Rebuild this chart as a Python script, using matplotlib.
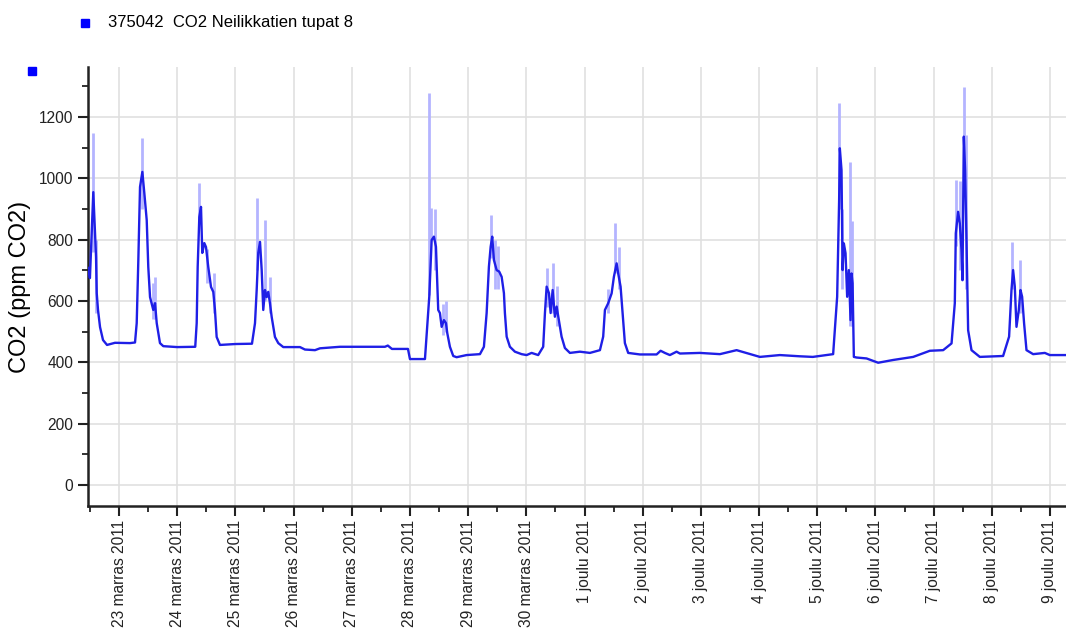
import numpy as np
import pandas as pd
import matplotlib
matplotlib.use('Agg')
import matplotlib.pyplot as plt
import matplotlib.dates as mdates
from matplotlib.ticker import MultipleLocator, FuncFormatter
from matplotlib.lines import Line2D

plt.rcParams['font.family'] = ['Liberation Sans', 'DejaVu Sans']

# days since 22.11.2011 00:00, CO2 ppm
days = [0.47, 0.50, 0.527, 0.558, 0.57, 0.605, 0.617, 0.639, 0.674, 0.725, 0.794, 0.931, 1.189, 1.275,
        1.304, 1.332, 1.361, 1.401, 1.435, 1.476, 1.503, 1.533, 1.589, 1.619, 1.648, 1.704, 1.761, 2.0, 2.31,
        2.335, 2.352, 2.380, 2.409, 2.431, 2.466, 2.495, 2.534, 2.581, 2.620, 2.649, 2.678, 2.735, 3.0, 3.285,
        3.337, 3.366, 3.393, 3.423, 3.452, 3.479, 3.509, 3.538, 3.565, 3.594, 3.624, 3.680, 3.737, 3.823,
        4.110, 4.196, 4.368, 4.454, 4.797, 5.57, 5.62, 5.69, 5.966, 6.00, 6.258,
        6.332, 6.373, 6.412, 6.447, 6.469, 6.486, 6.515, 6.545, 6.584, 6.619, 6.641, 6.687, 6.744, 6.802,
        6.974, 7.203, 7.271,
        7.318, 7.357, 7.387, 7.414, 7.443, 7.490, 7.534, 7.576, 7.615, 7.632, 7.662, 7.718, 7.804, 7.919,
        8.005, 8.091, 8.204, 8.290,
        8.320, 8.349, 8.389, 8.418, 8.452, 8.491, 8.521, 8.560, 8.606, 8.663, 8.749, 8.921, 9.093, 9.265,
        9.321, 9.351, 9.407, 9.466, 9.505, 9.552, 9.579, 9.620, 9.655, 9.694, 9.751, 9.952, 10.239, 10.308,
        10.381, 10.467, 10.582, 10.640, 10.983, 11.327, 11.614, 12.014, 12.357, 12.701, 12.924, 13.273,
        13.342, 13.376, 13.388, 13.417, 13.435, 13.457, 13.486, 13.514, 13.543, 13.572, 13.589, 13.607,
        13.629, 13.676, 13.847, 14.047, 14.305, 14.649, 14.935, 15.164, 15.308,
        15.364, 15.381, 15.421, 15.450, 15.479, 15.496, 15.519, 15.541, 15.565, 15.593, 15.651, 15.794, 16.194,
        16.297, 16.338, 16.366, 16.395, 16.424, 16.464, 16.493, 16.521, 16.555, 16.596, 16.710, 16.911,
        16.997, 17.272]
co2 = [708, 675, 809, 955, 900, 744, 626, 571, 515, 473, 457, 464, 463, 465,
       528, 734, 972, 1021, 952, 864, 711, 613, 571, 593, 528, 463, 453, 450, 451,
       528, 711, 874, 907, 757, 789, 776, 711, 646, 630, 571, 483, 457, 460, 461,
       528, 636, 757, 793, 701, 571, 636, 613, 630, 593, 548, 483, 463, 450,
       450, 442, 440, 446, 451, 451, 455, 444, 444, 411, 411,
       614, 799, 810, 777, 659, 571, 561, 516, 538, 528, 496, 451, 421, 417,
       424, 427, 451,
       561, 712, 777, 810, 734, 701, 696, 679, 626, 561, 484, 451, 435, 427,
       424, 431, 424, 451,
       561, 647, 626, 561, 636, 549, 582, 538, 484, 447, 431, 435, 431, 440,
       484, 571, 593, 625, 679, 723, 690, 647, 561, 463, 431, 426, 426, 438,
       431, 424, 435, 429, 431, 427, 440, 418, 424, 420, 418, 427,
       614, 929, 1098, 1027, 701, 788, 756, 614, 701, 538, 690, 658,
       418, 416, 413, 399, 408, 418, 438, 440, 462,
       593, 821, 891, 853, 766, 668, 1136, 1027, 799, 505, 440, 418, 421,
       484, 636, 701, 647, 516, 571, 636, 614, 527, 440, 427, 431,
       424, 424]

# min/max spread within the averaging interval
spread_days = [0.55, 0.60, 1.39, 1.58, 1.62, 2.37, 2.52, 2.63, 3.38, 3.51, 3.59,
               6.33, 6.37, 6.43, 6.56, 6.62, 7.39, 7.46, 7.52, 8.35, 8.45, 8.53,
               9.40, 9.52, 9.59, 13.37, 13.43, 13.56, 13.60, 15.38, 15.45, 15.52, 15.56,
               16.35, 16.49]
spread_lo = [760, 560, 900, 540, 540, 850, 660, 560, 700, 600, 560,
             620, 800, 700, 490, 500, 740, 640, 640, 580, 560, 520,
             560, 690, 640, 900, 640, 520, 520, 780, 700, 1000, 640,
             640, 560]
spread_hi = [1148, 800, 1130, 660, 680, 985, 770, 690, 936, 864, 680,
             1277, 903, 900, 590, 600, 880, 800, 780, 708, 723, 650,
             640, 854, 777, 1245, 900, 1054, 860, 995, 990, 1299, 1140,
             793, 734]

month_fi = {11: 'marras', 12: 'joulu'}

start = pd.Timestamp('2011-11-22')
t = start + pd.to_timedelta(days, unit='D')
ts = start + pd.to_timedelta(spread_days, unit='D')

fig = plt.figure(figsize=(10.66, 6.32), dpi=100)
ax = fig.add_axes([88/1066, 1 - 506/632, 1 - 88/1066, (506 - 67)/632])

ax.vlines(ts, spread_lo, spread_hi, color='#b4b4ff', lw=2.0, zorder=2)
ax.plot(t, co2, color='#1f1fe6', lw=1.7, zorder=3)

ax.set_xlim(start + pd.Timedelta(days=0.467), start + pd.Timedelta(days=17.275))
ax.set_ylim(-68, 1363)

ax.xaxis.set_major_locator(mdates.DayLocator())
ax.xaxis.set_minor_locator(mdates.HourLocator(byhour=12))
ax.xaxis.set_major_formatter(FuncFormatter(
    lambda v, p: '{} {} {}'.format(mdates.num2date(v).day, month_fi[mdates.num2date(v).month],
                                   mdates.num2date(v).year)))
ax.yaxis.set_major_locator(MultipleLocator(200))
ax.yaxis.set_minor_locator(MultipleLocator(100))

for lab in ax.get_xticklabels():
    lab.set_rotation(90)

ax.tick_params(axis='both', which='major', direction='out', length=7, width=1.5, labelsize=11.2,
               colors='#222222')
ax.tick_params(axis='both', which='minor', direction='out', length=4, width=1.3, colors='#222222')
ax.tick_params(axis='x', which='major', pad=3)

ax.grid(True, which='major', color='#e0e0e0', lw=1.2, zorder=0)
ax.set_axisbelow(True)
for side in ['top', 'right']:
    ax.spines[side].set_visible(False)
for side in ['left', 'bottom']:
    ax.spines[side].set_linewidth(1.8)
    ax.spines[side].set_color('#222222')

ax.set_ylabel('CO2 (ppm CO2)', fontsize=17, labelpad=6)

# legend on top and the small marker at the corner
fig.add_artist(Line2D([85/1066], [1 - 23/632], marker='s', ms=5.5, color='#0000ff', ls='',
                      transform=fig.transFigure))
fig.text(108/1066, 1 - 22/632, '375042  CO2 Neilikkatien tupat 8', fontsize=12, va='center')
fig.add_artist(Line2D([32/1066], [1 - 71/632], marker='s', ms=5.5, color='#0000ff', ls='',
                      transform=fig.transFigure))

plt.savefig('out.png', dpi=100)
